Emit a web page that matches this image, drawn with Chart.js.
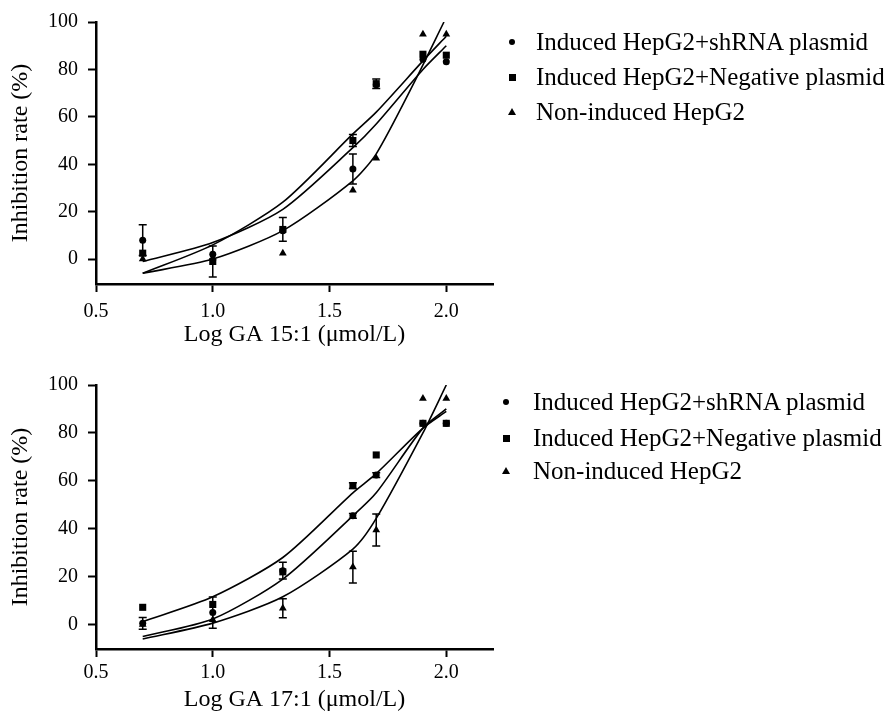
<!DOCTYPE html>
<html>
  <head>
    <meta charset="utf-8">
    <title>GA inhibition rate</title>
    <script src="https://cdn.jsdelivr.net/npm/chart.js@4.4.0/dist/chart.umd.min.js"></script>
    <style>
      body { margin: 0; background: #fff; }
      #wrap { position: relative; width: 886px; height: 718px; font-family: "Liberation Serif", serif; }
      #wrap canvas { position: absolute; left: 0; }
      .row { position: absolute; font-size: 25px; line-height: 28px; color: #000; white-space: nowrap; }
      .mk { position: absolute; background: #000; }
      .tri { position: absolute; width: 0; height: 0; border-left: 4px solid transparent; border-right: 4px solid transparent; border-bottom: 7px solid #000; }
    </style>
  </head>
  <body>
    <div id="wrap">
      <canvas id="chart0" width="886" height="359" style="top:0"></canvas>
      <canvas id="chart1" width="886" height="359" style="top:359px"></canvas>
      <div id="legend0"></div>
      <div id="legend1"></div>
    </div>
    <script type="text/javascript">
      // series names
      var seriesNames = ["Induced HepG2+shRNA plasmid", "Induced HepG2+Negative plasmid", "Non-induced HepG2"];
      var xTicks = [0.5, 1.0, 1.5, 2.0];
      var yTicks = [0, 20, 40, 60, 80, 100];

      // measured doses (log GA)
      var doseX = [0.7, 1.0, 1.3, 1.6, 1.7, 1.9, 2.0];

      // ---- GA 15:1 ----
      var top_sh      = [8, 2, 12, 38, 73.5, 84.3, 83.2];
      var top_sh_err  = [6.5, 0, 0, 6.3, 0, 0, 0];
      var top_neg     = [2.5, -1, 12.5, 50, 74, 86.4, 86];
      var top_neg_err = [0, 6.5, 5, 2.5, 2, 0, 0];
      var top_non     = [0, 0.5, 2.5, 29, 42.5, 94.8, 94.8];
      var top_non_err = [0, 0, 0, 0, 0, 0, 0];
      // fitted curves
      var top_fitX_a = [0.7, 1.0, 1.3, 1.6, 1.7, 1.9, 2.0];
      var top_fit_a  = [-1, 7, 21, 47, 57, 80, 90];
      var top_fitX_b = [0.7, 1.0, 1.3, 1.6, 1.7, 1.9, 2.0];
      var top_fit_b  = [-6, 6, 24, 52.8, 62, 83.6, 94];
      var top_fitX_c = [0.7, 1.0, 1.3, 1.6, 1.7, 1.86, 1.99];
      var top_fit_c  = [-6, 0, 12, 33, 44.4, 74, 100];

      // ---- GA 17:1 ----
      var bot_sh      = [0.5, 5, 22.5, 45.4, 62.4, 84, 84];
      var bot_sh_err  = [2.5, 6.5, 3.5, 1, 1, 0, 0];
      var bot_neg     = [7.2, 8.4, 22, 58, 70.8, 84, 84];
      var bot_neg_err = [0, 0, 0, 1.2, 0, 0, 0];
      var bot_non     = [0, 2, 6.8, 24, 39.5, 94.4, 94.4];
      var bot_non_err = [0, 0, 4, 6.6, 6.7, 0, 0];
      var bot_fitX_a = [0.7, 1.0, 1.3, 1.6, 1.7, 1.9, 2.0];
      var bot_fit_a  = [1.2, 11.6, 28, 55, 63, 82, 89];
      var bot_fitX_b = [0.7, 1.0, 1.3, 1.6, 1.7, 1.9, 2.0];
      var bot_fit_b  = [-5, 2.3, 19, 45.4, 55, 82, 90];
      var bot_fitX_c = [0.7, 1.0, 1.3, 1.6, 1.7, 1.9, 2.0];
      var bot_fit_c  = [-6, 0.6, 11.6, 31.5, 44.3, 80, 100];

      function pts(xs, ys) {
        return xs.map(function (x, i) { return {x: x, y: ys[i]}; });
      }

      // draws the vertical error bars with caps
      var errorBars = {
        id: 'errorBars',
        afterDatasetsDraw: function (chart) {
          var ctx = chart.ctx, xs = chart.scales.x, ys = chart.scales.y;
          chart.data.datasets.forEach(function (ds) {
            if (!ds.errors) return;
            ds.data.forEach(function (p, i) {
              var e = ds.errors[i];
              if (!e) return;
              var px = xs.getPixelForValue(p.x);
              var t = ys.getPixelForValue(p.y + e);
              var b = ys.getPixelForValue(p.y - e);
              ctx.save();
              ctx.strokeStyle = '#000';
              ctx.lineWidth = 1.5;
              ctx.beginPath();
              ctx.moveTo(px, t); ctx.lineTo(px, b);
              ctx.moveTo(px - 4, t); ctx.lineTo(px + 4, t);
              ctx.moveTo(px - 4, b); ctx.lineTo(px + 4, b);
              ctx.stroke();
              ctx.restore();
            });
          });
        }
      };

      function markerSet(ys, errs, style, r) {
        return {
          data: pts(doseX, ys), errors: errs, showLine: false,
          pointStyle: style, pointRadius: r, pointBackgroundColor: '#000',
          pointBorderColor: '#000', pointBorderWidth: 0
        };
      }
      function curveSet(xs, ys) {
        return {
          data: pts(xs, ys), showLine: true, pointRadius: 0,
          borderColor: '#000', borderWidth: 1.6, tension: 0.25, fill: false
        };
      }

      function makeChart(id, sets, yMin, padTop, xHeight, xTickPad, xTitlePad, xTitle) {
        var font = {family: '"Liberation Serif", serif', size: 20};
        return new Chart(document.getElementById(id), {
          type: 'scatter',
          data: {datasets: sets},
          plugins: [errorBars],
          options: {
            responsive: false,
            animation: false,
            layout: {padding: {top: padTop, right: 393, left: 0, bottom: 0}},
            plugins: {legend: {display: false}, tooltip: {enabled: false}},
            scales: {
              x: {
                type: 'linear', min: 0.5, max: 2.2,
                afterBuildTicks: function (s) { s.ticks = xTicks.map(function (v) { return {value: v}; }); },
                afterFit: function (s) { s.height = xHeight; },
                border: {color: '#000', width: 2.5},
                grid: {drawOnChartArea: false, tickLength: 8, tickWidth: 2, tickColor: '#000'},
                ticks: {color: '#000', font: font, padding: xTickPad, maxRotation: 0,
                        callback: function (v) { return v.toFixed(1); }},
                title: {display: true, text: xTitle, color: '#000',
                        font: {family: '"Liberation Serif", serif', size: 24},
                        padding: {top: 0, bottom: xTitlePad}}
              },
              y: {
                type: 'linear', min: yMin, max: 100,
                afterBuildTicks: function (s) { s.ticks = yTicks.map(function (v) { return {value: v}; }); },
                afterFit: function (s) { s.width = 96; },
                border: {color: '#000', width: 2.5},
                grid: {drawOnChartArea: false, tickLength: 8, tickWidth: 2, tickColor: '#000'},
                ticks: {color: '#000', font: font, padding: 10},
                title: {display: true, text: 'Inhibition rate (%)', color: '#000',
                        font: {family: '"Liberation Serif", serif', size: 24},
                        padding: {top: 6, bottom: 0}}
              }
            }
          }
        });
      }

      var chart0 = makeChart('chart0', [
        markerSet(top_sh, top_sh_err, 'circle', 3.5),
        markerSet(top_neg, top_neg_err, 'rect', 5),
        markerSet(top_non, top_non_err, 'triangle', 4.5),
        curveSet(top_fitX_a, top_fit_a),
        curveSet(top_fitX_b, top_fit_b),
        curveSet(top_fitX_c, top_fit_c)
      ], -10.5, 21, 75, 8, 10, 'Log GA 15:1 (\u03bcmol/L)');

      var chart1 = makeChart('chart1', [
        markerSet(bot_sh, bot_sh_err, 'circle', 3.5),
        markerSet(bot_neg, bot_neg_err, 'rect', 5),
        markerSet(bot_non, bot_non_err, 'triangle', 4.5),
        curveSet(bot_fitX_a, bot_fit_a),
        curveSet(bot_fitX_b, bot_fit_b),
        curveSet(bot_fitX_c, bot_fit_c)
      ], -10.2, 26, 69, 4, 4, 'Log GA 17:1 (\u03bcmol/L)');

      // html legends, one per panel
      function buildLegend(id, rowsY, markX, textX) {
        var box = document.getElementById(id);
        var html = '';
        seriesNames.forEach(function (name, i) {
          var cy = rowsY[i];
          if (i === 0) html += '<span class="mk" style="left:' + (markX - 3) + 'px;top:' + (cy - 3) + 'px;width:6px;height:6px;border-radius:3px"></span>';
          if (i === 1) html += '<span class="mk" style="left:' + (markX - 3.5) + 'px;top:' + (cy - 3.5) + 'px;width:7px;height:7px"></span>';
          if (i === 2) html += '<span class="tri" style="left:' + (markX - 4) + 'px;top:' + (cy - 4) + 'px"></span>';
          html += '<div class="row" style="left:' + textX + 'px;top:' + (cy - 14) + 'px">' + name + '</div>';
        });
        box.innerHTML = html;
      }
      buildLegend('legend0', [42, 77, 112], 512, 536);
      buildLegend('legend1', [402, 438, 471], 506, 533);
    </script>
  </body>
</html>
